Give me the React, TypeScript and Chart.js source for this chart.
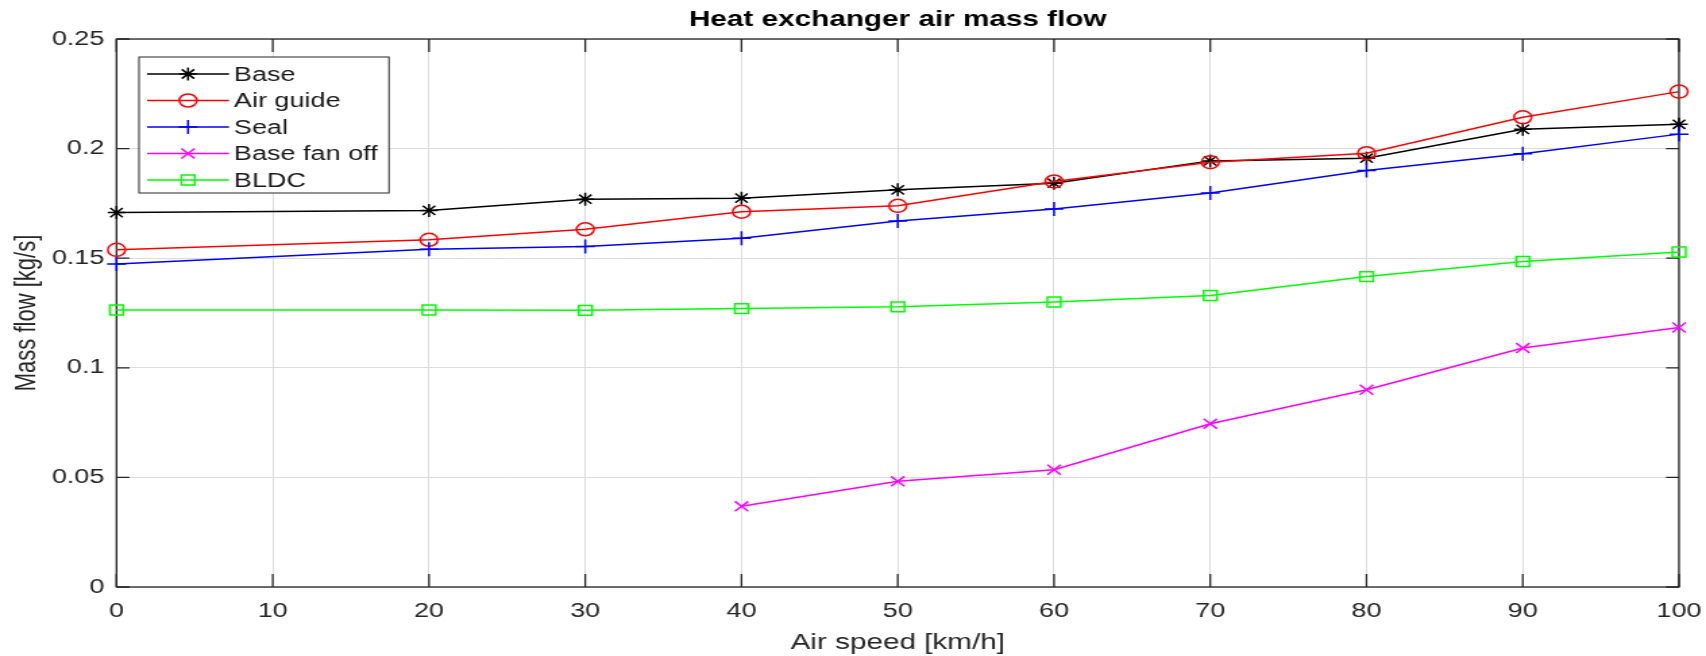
import React, { useEffect, useRef } from 'react';
import { Chart, registerables } from 'chart.js';
import { drawPoint } from 'chart.js/helpers';

Chart.register(...registerables);

// ---- data ----
const speeds = [0, 20, 30, 40, 50, 60, 70, 80, 90, 100];
const fanOffSpeeds = [40, 50, 60, 70, 80, 90, 100];

const base = [0.1708, 0.1718, 0.1769, 0.1774, 0.1812, 0.1842, 0.1944, 0.1956, 0.2088, 0.2111];
const airGuide = [0.1538, 0.1584, 0.1632, 0.1712, 0.1739, 0.185, 0.1938, 0.1979, 0.2143, 0.226];
const seal = [0.1474, 0.1541, 0.1553, 0.1591, 0.167, 0.1724, 0.1797, 0.19, 0.1976, 0.2066];
const baseFanOff = [0.0368, 0.0482, 0.0535, 0.0745, 0.09, 0.109, 0.1184];
const bldc = [0.1264, 0.1264, 0.1262, 0.127, 0.1278, 0.13, 0.133, 0.1416, 0.1485, 0.1528];

const seriesNames = ['Base', 'Air guide', 'Seal', 'Base fan off', 'BLDC'];
const seriesX = [speeds, speeds, speeds, fanOffSpeeds, speeds];
const seriesY = [base, airGuide, seal, baseFanOff, bldc];
const seriesColors = ['#000000', '#ff0000', '#0000ff', '#ff00ff', '#00ff00'];
const seriesMarkers = ['star', 'circle', 'cross', 'crossRot', 'rect'];
const markerRadii = [6.5, 6.5, 7, 7, 7];

const chartTitle = 'Heat exchanger air mass flow';
const xAxisTitle = 'Air speed [km/h]';
const yAxisTitle = 'Mass flow [kg/s]';
const xTickValues = [0, 10, 20, 30, 40, 50, 60, 70, 80, 90, 100];
const xTickLabels = ['0', '10', '20', '30', '40', '50', '60', '70', '80', '90', '100'];
const yTickValues = [0, 0.05, 0.1, 0.15, 0.2, 0.25];
const yTickLabels = ['0', '0.05', '0.1', '0.15', '0.2', '0.25'];

// ---- layout ----
const FULL_W = 1706;
const H = 656;
const STRETCH = 1.35;
const W = Math.round(FULL_W / STRETCH);
const S = FULL_W / W;
const FONT = '"Liberation Sans", Arial, Helvetica, sans-serif';
const AXIS_COLOR = '#262626';

const boxPlugin = {
  id: 'matlabBox',
  beforeDatasetsDraw(chart: any) {
    const { ctx, chartArea: a, scales } = chart;
    ctx.save();
    ctx.strokeStyle = AXIS_COLOR;
    ctx.lineWidth = 1.3;
    ctx.strokeRect(a.left, a.top, a.right - a.left, a.bottom - a.top);
    const tlv = 13;
    const tlh = 13 / S;
    ctx.beginPath();
    for (const v of xTickValues) {
      const x = scales.x.getPixelForValue(v);
      ctx.moveTo(x, a.bottom);
      ctx.lineTo(x, a.bottom - tlv);
      ctx.moveTo(x, a.top);
      ctx.lineTo(x, a.top + tlv);
    }
    for (const v of yTickValues) {
      const y = scales.y.getPixelForValue(v);
      ctx.moveTo(a.left, y);
      ctx.lineTo(a.left + tlh, y);
      ctx.moveTo(a.right, y);
      ctx.lineTo(a.right - tlh, y);
    }
    ctx.stroke();
    ctx.restore();
  },
};

const titlePlugin = {
  id: 'matlabTitle',
  afterDraw(chart: any) {
    const { ctx, chartArea: a } = chart;
    ctx.save();
    ctx.font = `bold 22px ${FONT}`;
    ctx.fillStyle = '#000000';
    ctx.textAlign = 'center';
    ctx.textBaseline = 'middle';
    ctx.fillText(chartTitle, (a.left + a.right) / 2, 20);
    ctx.restore();
  },
};

const legendPlugin = {
  id: 'matlabLegend',
  afterDatasetsDraw(chart: any) {
    const { ctx } = chart;
    const L = 139 / S, R = 389 / S, T = 57, B = 193;
    ctx.save();
    ctx.fillStyle = '#ffffff';
    ctx.fillRect(L, T, R - L, B - T);
    ctx.strokeStyle = AXIS_COLOR;
    ctx.lineWidth = 1;
    ctx.strokeRect(L, T, R - L, B - T);
    chart.data.datasets.forEach((ds: any, i: number) => {
      const y = 74 + i * 26.5;
      ctx.strokeStyle = ds.borderColor;
      ctx.lineWidth = 1.5;
      ctx.beginPath();
      ctx.moveTo(147 / S, y);
      ctx.lineTo(229 / S, y);
      ctx.stroke();
      ctx.fillStyle = 'rgba(0,0,0,0)';
      ctx.strokeStyle = ds.borderColor;
      ctx.lineWidth = 1.5;
      drawPoint(ctx, { pointStyle: ds.pointStyle, radius: ds.pointRadius, rotation: 0, borderWidth: 1.5 }, 188 / S, y);
      ctx.fillStyle = '#1a1a1a';
      ctx.font = `20px ${FONT}`;
      ctx.textAlign = 'left';
      ctx.textBaseline = 'middle';
      ctx.fillText(ds.label, 234 / S, y + 1);
    });
    ctx.restore();
  },
};

export default function App() {
  const ref = useRef<HTMLCanvasElement>(null);
  useEffect(() => {
    document.body.style.margin = '0';
    const datasets = seriesNames.map((name, i) => ({
      label: name,
      data: seriesX[i].map((x, j) => ({ x, y: seriesY[i][j] })),
      borderColor: seriesColors[i],
      backgroundColor: 'rgba(0,0,0,0)',
      borderWidth: 1.5,
      pointStyle: seriesMarkers[i],
      pointRadius: markerRadii[i],
      pointBorderColor: seriesColors[i],
      pointBackgroundColor: 'rgba(0,0,0,0)',
      pointBorderWidth: 1.5,
      tension: 0,
      clip: false,
      order: seriesNames.length - i,
    }));
    const chart = new Chart(ref.current as HTMLCanvasElement, {
      type: 'line',
      data: { datasets } as any,
      options: {
        animation: false,
        responsive: false,
        maintainAspectRatio: false,
        devicePixelRatio: 1,
        layout: { padding: { top: 39, right: W - 1679 / S, bottom: 0, left: 0 } },
        plugins: {
          legend: { display: false },
          tooltip: { enabled: false },
          title: { display: false },
        },
        scales: {
          x: {
            type: 'linear',
            min: 0,
            max: 100,
            afterBuildTicks: (s: any) => {
              s.ticks = xTickValues.map((v) => ({ value: v }));
            },
            afterFit: (s: any) => {
              s.height = H - 587;
              s.paddingLeft = 0;
              s.paddingRight = 0;
            },
            ticks: {
              autoSkip: false,
              maxRotation: 0,
              padding: 12,
              color: AXIS_COLOR,
              font: { size: 20, family: FONT },
              callback: (_v: any, i: number) => xTickLabels[i],
            },
            grid: { color: '#dcdcdc', lineWidth: 1, drawTicks: false },
            border: { display: false },
            title: {
              display: true,
              text: xAxisTitle,
              color: AXIS_COLOR,
              font: { size: 22, family: FONT },
              padding: { top: 0, bottom: 0 },
            },
          },
          y: {
            type: 'linear',
            min: 0,
            max: 0.25,
            afterBuildTicks: (s: any) => {
              s.ticks = yTickValues.map((v) => ({ value: v }));
            },
            afterFit: (s: any) => {
              s.width = 116.5 / S;
              s.paddingTop = 0;
              s.paddingBottom = 0;
            },
            ticks: {
              padding: 9,
              color: AXIS_COLOR,
              font: { size: 20, family: FONT },
              callback: (_v: any, i: number) => yTickLabels[i],
            },
            grid: { color: '#dcdcdc', lineWidth: 1, drawTicks: false },
            border: { display: false },
            title: {
              display: true,
              text: yAxisTitle,
              color: AXIS_COLOR,
              font: { size: 22, family: FONT },
              padding: { top: 7, bottom: 0 },
            },
          },
        },
      } as any,
      plugins: [boxPlugin, legendPlugin, titlePlugin],
    });
    return () => chart.destroy();
  }, []);
  return (
    <div style={{ position: 'fixed', left: 0, top: 0, width: FULL_W, height: H, background: '#ffffff' }}>
      <canvas
        ref={ref}
        width={W}
        height={H}
        style={{ width: FULL_W + 'px', height: H + 'px', display: 'block' }}
      />
    </div>
  );
}
